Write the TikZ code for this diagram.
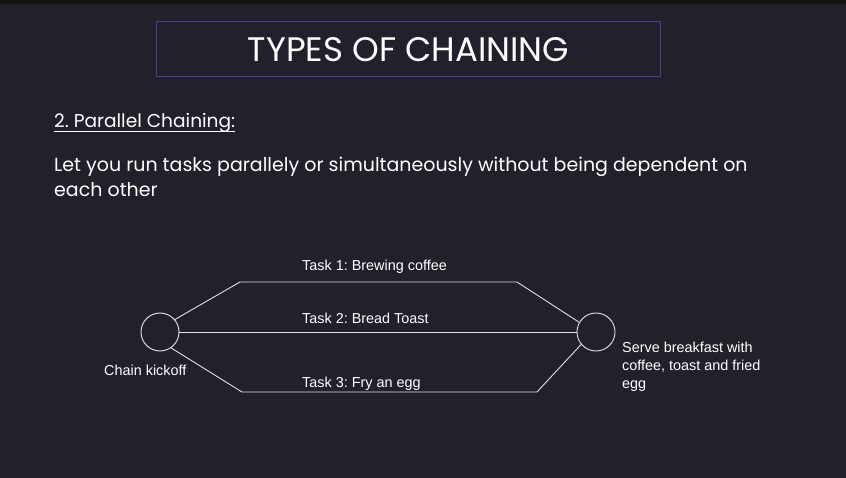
\documentclass[tikz,border=0pt]{standalone}
\usepackage{fontspec}
\setmainfont{Liberation Sans}
\newfontfamily\headfont{Poppins}
\frenchspacing
\begin{document}
\begin{tikzpicture}[x=1pt,y=-1pt,
  every node/.style={inner sep=0pt, text=white},
  link/.style={draw=white!88!black, line width=0.9pt},
  stage/.style={circle, draw=white!90!black, line width=0.9pt, minimum size=38pt},
  tasklabel/.style={anchor=west, font=\fontsize{14.4}{18}\selectfont},
]
\definecolor{slidebg}{HTML}{22212B}
\definecolor{framecol}{HTML}{4B3D8F}
% background and top strip
\fill[slidebg] (0,0) rectangle (846,478);
\fill[black!92] (0,0) rectangle (846,4);
\useasboundingbox (0,0) rectangle (846,478);

% title banner
\node[draw=framecol, line width=1pt, minimum width=504pt, minimum height=55pt, anchor=north west]
  (banner) at (156,21) {};
\node[font=\headfont\fontsize{34}{36}\selectfont] (title) at ([yshift=-1pt]banner.center) {TYPES OF CHAINING};

% heading and description
\node[anchor=base west, font=\headfont\fontsize{18.6}{22}\selectfont] (heading) at (54,128)
  {2. Parallel Chaining:};
\draw[white, line width=1.4pt] ([yshift=-3.5pt]heading.base west) -- ([yshift=-3.5pt]heading.base east);
\node[anchor=base west, align=left, font=\headfont\fontsize{19}{25}\selectfont] (desc) at (54,197)
  {Let you run tasks parallely or simultaneously without being dependent on\\each other};

% start and end stages
\node[stage] (start) at (160,332) {};
\node[stage] (finish) at (596,332) {};

% bends of the upper and lower branches
\coordinate (t1) at (240,282);
\coordinate (t2) at (517,282);
\coordinate (b1) at (242,392);
\coordinate (b2) at (537,392);

% three parallel branches
\draw[link] (start.40) -- (t1) -- (t2) -- (finish.150);
\draw[link] (start.east) -- (finish.west);
\draw[link] (start.-55) -- (b1) -- (b2) -- (finish.-140);

% labels
\node[tasklabel] (l1) at (302,267) {Task 1: Brewing coffee};
\node[tasklabel] (l2) at (302,318) {Task 2: Bread Toast};
\node[tasklabel] (l3) at (302,384) {Task 3: Fry an egg};
\node[tasklabel] (lstart) at (104,370) {Chain kickoff};
\node[tasklabel, align=left, anchor=north west] (lfinish) at (622,342)
  {Serve breakfast with\\coffee, toast and fried\\egg};
\end{tikzpicture}
\end{document}
